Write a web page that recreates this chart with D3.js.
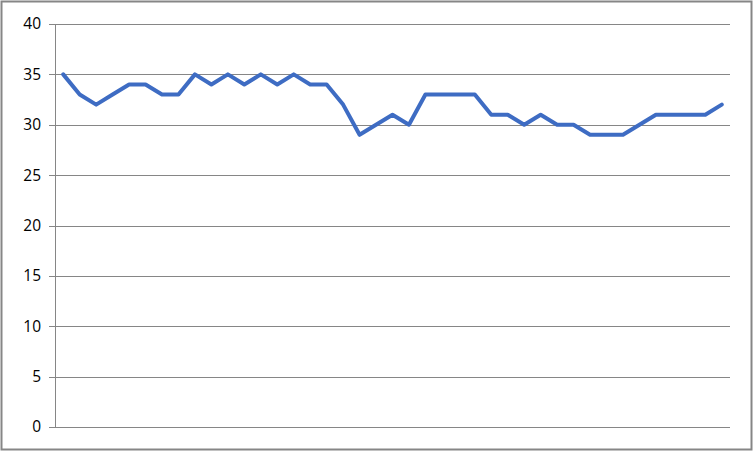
<!DOCTYPE html>
<html>
<head>
<meta charset="utf-8">
<script src="https://cdn.jsdelivr.net/npm/d3@7"></script>
<style>
  body { margin: 0; background: #fff; }
  svg { display: block; }
</style>
</head>
<body>
<div id="chart"></div>
<script>
// values, one per category
const values = [35, 33, 32, 33, 34, 34, 33, 33, 35, 34, 35, 34, 35, 34, 35, 34, 34, 32, 29, 30,
                31, 30, 33, 33, 33, 33, 31, 31, 30, 31, 30, 30, 29, 29, 29, 30, 31, 31, 31, 31, 32];
const categories = values.map((d, i) => i + 1);
const yTicks = [0, 5, 10, 15, 20, 25, 30, 35, 40];

const W = 753, H = 451;
const margin = {top: 24, right: 23, bottom: 24, left: 55};
const width = W - margin.left - margin.right,
      height = H - margin.top - margin.bottom;

const svg = d3.select("#chart")
  .append("svg")
  .attr("width", W)
  .attr("height", H);

// outer chart border
svg.append("rect")
  .attr("x", 1.5).attr("y", 1.5)
  .attr("width", W - 3).attr("height", H - 3)
  .attr("fill", "#fff")
  .attr("stroke", "#868686")
  .attr("stroke-width", 2);

const g = svg.append("g")
  .attr("transform", `translate(${margin.left},${margin.top})`);

const x = d3.scaleBand()
  .domain(categories)
  .range([0, width]);

const y = d3.scaleLinear()
  .domain([0, 40])
  .range([height, 0]);

// gridlines + tick labels
const yAxis = g.append("g")
  .call(d3.axisLeft(y).tickValues(yTicks).tickSize(-width).tickSizeOuter(0).tickPadding(14));
yAxis.select(".domain").remove();
yAxis.selectAll(".tick line")
  .attr("x1", -6)
  .attr("stroke", "#868686")
  .attr("shape-rendering", "crispEdges");
yAxis.selectAll(".tick text")
  .attr("fill", "#000")
  .style("font-family", "'Open Sans', sans-serif")
  .style("font-size", "15.5px");

// vertical axis line
g.append("line")
  .attr("x1", 0).attr("x2", 0)
  .attr("y1", 0).attr("y2", height)
  .attr("stroke", "#868686")
  .attr("shape-rendering", "crispEdges");

// the series
const line = d3.line()
  .x((d, i) => x(categories[i]) + x.bandwidth() / 2)
  .y(d => y(d));

g.append("path")
  .datum(values)
  .attr("fill", "none")
  .attr("stroke", "#3E6CC3")
  .attr("stroke-width", 4)
  .attr("stroke-linejoin", "round")
  .attr("stroke-linecap", "round")
  .attr("d", line);
</script>
</body>
</html>
